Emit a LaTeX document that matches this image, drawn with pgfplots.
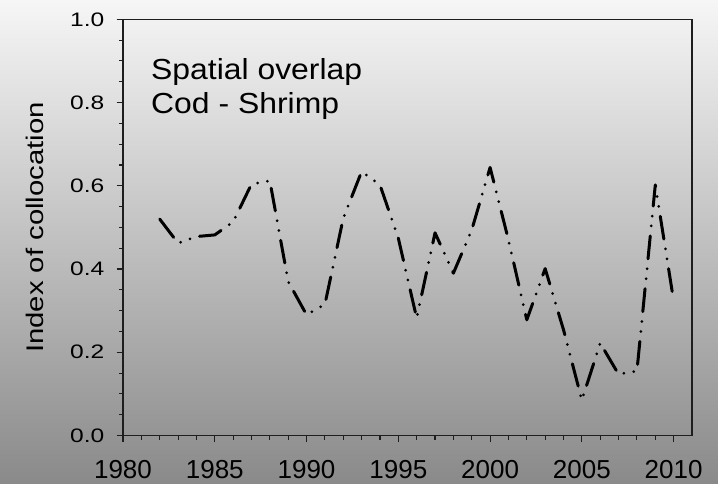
\documentclass[border=0pt]{standalone}
\usepackage{pgfplots}
\pgfplotsset{compat=1.18}
\usepackage{fontspec}
\setmainfont{Liberation Sans}
% widened cuts of the same face for the y axis texts and the note
\newfontfamily\wideyfont[FakeStretch=1.26]{Liberation Sans}
\newfontfamily\widelabelfont[FakeStretch=1.22]{Liberation Sans}
\newfontfamily\notefont[FakeStretch=1.10]{Liberation Sans}

\definecolor{bgtop}{RGB}{246,246,246}
\definecolor{bgbot}{RGB}{138,138,138}
\definecolor{axisdark}{RGB}{30,30,30}

% Index of collocation, cod vs. shrimp
\pgfplotstableread{
year  ic
1982  0.520
1983  0.462
1984  0.478
1985  0.482
1986  0.513
1987  0.604
1988  0.612
1989  0.370
1990  0.290
1991  0.315
1992  0.522
1993  0.634
1994  0.602
1995  0.474
1996  0.282
1997  0.487
1998  0.390
1999  0.494
2000  0.644
2001  0.470
2002  0.278
2003  0.401
2004  0.254
2005  0.085
2006  0.222
2007  0.147
2008  0.155
2009  0.602
2010  0.324
}\collocation

\begin{document}
\begin{tikzpicture}[x=1pt,y=1pt]
  \useasboundingbox (0,0) rectangle (718,483);
  % page background
  \shade[top color=bgtop,bottom color=bgbot] (0,0) rectangle (718,483);
  \begin{axis}[
    at={(123pt,47.5pt)}, anchor=south west,
    scale only axis, width=569pt, height=416.2pt,
    xmin=1980, xmax=2011, ymin=0, ymax=1,
    xtick={1980,1985,...,2010}, minor x tick num=4,
    ytick={0,0.2,0.4,0.6,0.8,1.0}, minor y tick num=3,
    tick pos=left, tick align=outside,
    major tick length=6.5pt, minor tick length=4pt,
    axis line style={axisdark, line width=1.3pt},
    every tick/.style={axisdark, line width=1.1pt},
    /pgf/number format/assume math mode=true,
    xticklabel style={font=\fontsize{26}{30}\selectfont, inner sep=0pt,
      anchor=north, yshift=-18pt, /pgf/number format/1000 sep={}},
    yticklabel style={font=\wideyfont\fontsize{19.5}{24}\selectfont,
      inner sep=0pt, anchor=east, xshift=-12pt,
      /pgf/number format/fixed, /pgf/number format/fixed zerofill,
      /pgf/number format/precision=1},
    ylabel={Index of collocation},
    every axis y label/.style={at={(axis description cs:0,0.5)},
      xshift=-79pt, rotate=90, anchor=base,
      font=\widelabelfont\fontsize{24}{28}\selectfont},
  ]
    \addplot[black, line width=3pt, line cap=round, line join=round,
      dash pattern=on 23pt off 10pt on 0pt off 10pt on 0pt off 10pt]
      table[x=year, y=ic] {\collocation};
  \end{axis}
  \node[anchor=north west, inner sep=0pt, align=left,
    font=\notefont\fontsize{29}{34}\selectfont] at (151,425)
    {Spatial overlap\\Cod - Shrimp};
\end{tikzpicture}
\end{document}
